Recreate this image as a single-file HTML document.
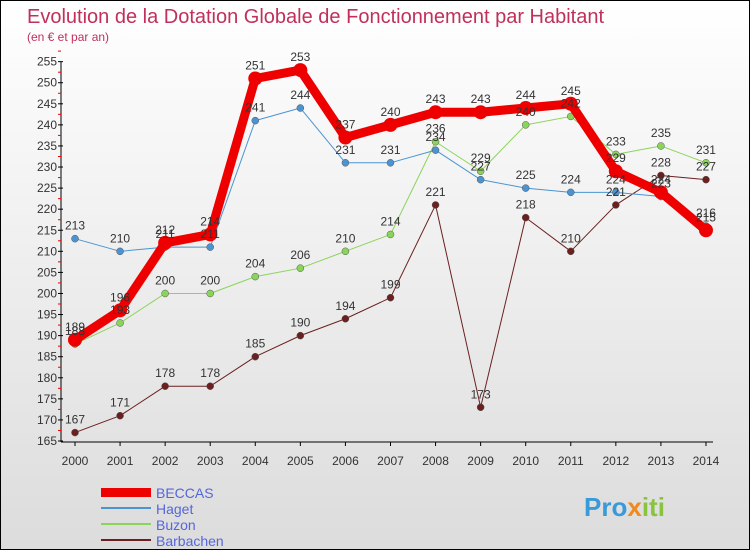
<!DOCTYPE html>
<html><head><meta charset="utf-8"><style>
body{margin:0;width:750px;height:550px;overflow:hidden;font-family:"Liberation Sans",sans-serif}
#wrap{position:relative;width:748px;height:548px;border:1px solid #000;background:linear-gradient(#fff,#dcdcdc)}
</style></head><body>
<div id="wrap">
<svg id="svg" width="748" height="548" xmlns="http://www.w3.org/2000/svg">
<text x="26" y="22" font-size="20" fill="#c0305a">Evolution de la Dotation Globale de Fonctionnement par Habitant</text>
<text x="26" y="40" font-size="12" fill="#c0305a">(en € et par an)</text>
<g id="axes"></g><g id="series"></g><g id="labels"></g>
<g>
<rect x="100" y="487" width="50" height="9" fill="#e00"/>
<text x="155" y="497" font-size="14" fill="#5566dd">BECCAS</text>
<rect x="100" y="506" width="50" height="2" fill="#4b94d1"/>
<text x="155" y="513" font-size="14" fill="#5566dd">Haget</text>
<rect x="100" y="522" width="50" height="2" fill="#8ad45a"/>
<text x="155" y="529" font-size="14" fill="#5566dd">Buzon</text>
<rect x="100" y="538" width="50" height="2" fill="#6b1f1f"/>
<text x="155" y="545" font-size="14" fill="#5566dd">Barbachen</text>
</g>
<text x="583" y="515" font-size="26" font-weight="bold" fill="#3a9ad9">Pro<tspan fill="#f08a1c">x</tspan><tspan fill="#8ac43f">iti</tspan></text>
</svg></div>
<script>
const years=[2000,2001,2002,2003,2004,2005,2006,2007,2008,2009,2010,2011,2012,2013,2014];
const yTicks=[165,170,175,180,185,190,195,200,205,210,215,220,225,230,235,240,245,250,255];
const beccas=[189,196,212,214,251,253,237,240,243,243,244,245,229,224,215];
const haget=[213,210,211,211,241,244,231,231,234,227,225,224,224,223,216];
const buzon=[188,193,200,200,204,206,210,214,236,229,240,242,233,235,231];
const barbachen=[167,171,178,178,185,190,194,199,221,173,218,210,221,228,227];
const NS="http://www.w3.org/2000/svg";
const X=i=>74+i*45.07;
const Y=v=>440-(v-165)*4.215;
function mk(tag,attrs,parent){const e=document.createElementNS(NS,tag);for(const k in attrs)e.setAttribute(k,attrs[k]);parent.appendChild(e);return e;}
const axes=document.getElementById('axes'),ser=document.getElementById('series'),lab=document.getElementById('labels');
let a=mk('line',{x1:60,y1:Y(255),x2:60,y2:441,stroke:'#000'},axes);


a=mk('line',{x1:60,y1:441,x2:712,y2:441,stroke:'#000'},axes);


yTicks.forEach(v=>{
 mk('line',{x1:57,y1:Y(v),x2:62,y2:Y(v),stroke:'#000'},axes);
 mk('line',{x1:57,y1:Y(v+2.5),x2:60,y2:Y(v+2.5),stroke:'#e00'},axes);
 const t=mk('text',{x:56,y:Y(v)+4,'font-size':12,'text-anchor':'end',fill:'#333'},axes);t.textContent=v;
 
 
});
years.forEach((y,i)=>{
 mk('line',{x1:X(i),y1:441,x2:X(i),y2:445,stroke:'#000'},axes);
 const t=mk('text',{x:X(i),y:464,'font-size':12,'text-anchor':'middle',fill:'#333'},axes);t.textContent=y;
 
 
});
function draw(name,data,color,w,r){
 const p=mk('polyline',{points:data.map((v,i)=>X(i)+','+Y(v)).join(' '),fill:'none',stroke:color,'stroke-width':w,'stroke-linejoin':'round'},ser);
 
 
 data.forEach((v,i)=>{
  const c=mk('circle',{cx:X(i),cy:Y(v),r:r,fill:color,stroke:w>3?'none':'#555','stroke-width':0.5},ser);
  
  
  const t=mk('text',{x:X(i),y:Y(v)-9,'font-size':12,'text-anchor':'middle',fill:'#333'},lab);t.textContent=v;
  
  
 });
}
draw('barbachen',barbachen,'#6b1f1f',1,3.5);
draw('buzon',buzon,'#8ad45a',1,3.5);
draw('haget',haget,'#4b94d1',1,3.5);
draw('beccas',beccas,'#ee0000',9,7);
</script>
</body></html>
